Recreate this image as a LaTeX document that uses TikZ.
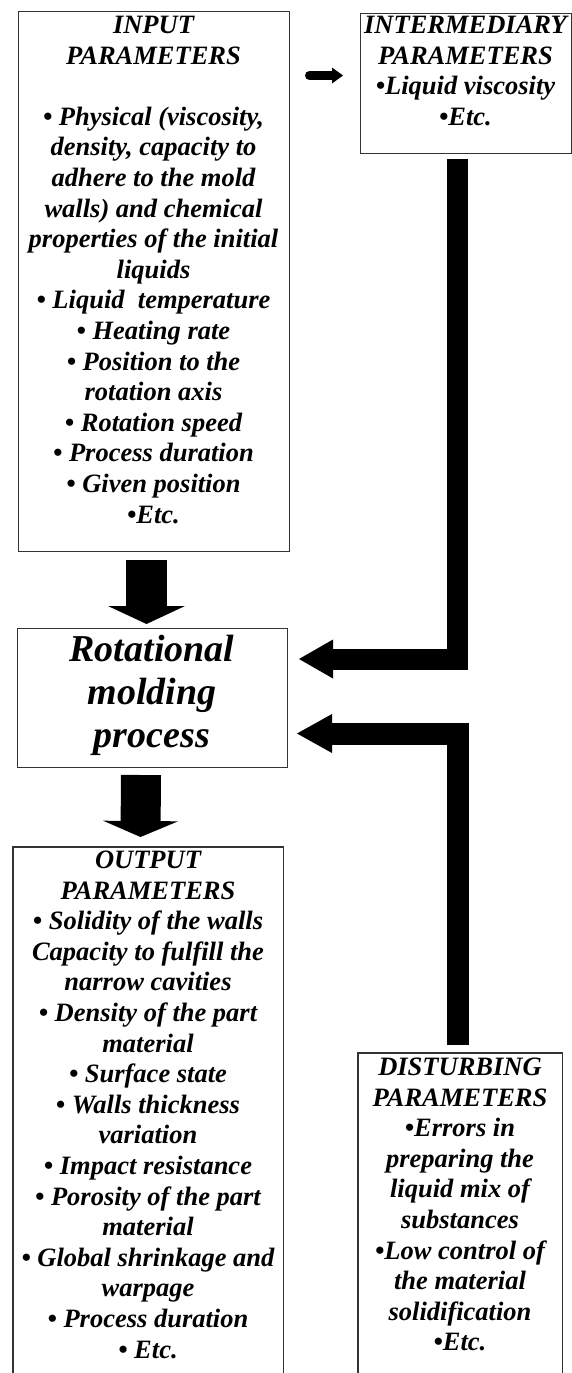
\documentclass[tikz,border=0pt]{standalone}
\usepackage{fontspec}
\setmainfont{Liberation Serif}
\usetikzlibrary{arrows.meta}
\begin{document}
\begin{tikzpicture}[x=1pt,y=-1pt,
  boxline/.style={line width=1.2pt, draw=black!80},
  frame/.style={boxline, inner sep=0pt, anchor=north west},
  hole/.style={inner sep=0pt, anchor=north west},
  txt/.style={align=center, inner sep=0pt, anchor=north, text=black,
    font=\fontsize{26.5}{30.6}\selectfont\bfseries\itshape},
  bigtxt/.style={align=center, inner sep=0pt, anchor=north, text=black,
    font=\fontsize{38}{43}\selectfont\bfseries\itshape},
  fat/.style={draw=black, line cap=butt, line join=miter}
]
\useasboundingbox[fill=white] (0,0) rectangle (572,1373);

% boxes
\node[frame, minimum width=271pt, minimum height=540pt] (inbox) at (18,11) {};
\node[frame, minimum width=211pt, minimum height=140pt] (midbox) at (360,13) {};
\node[frame, minimum width=270pt, minimum height=139pt] (procbox) at (17,628) {};
\node[hole, minimum width=270pt, minimum height=526pt] (outbox) at (13,847) {};
\node[hole, minimum width=204pt, minimum height=320pt] (disbox) at (358,1053) {};
\draw[boxline] (outbox.south west) -- (outbox.north west) -- (outbox.north east) -- (outbox.south east);
\draw[boxline] (disbox.south west) -- (disbox.north west) -- (disbox.north east) -- (disbox.south east);

% texts
\node[txt] (inT) at (153.5,11.9) {\strut INPUT\\PARAMETERS\\\strut\\
• Physical (viscosity,\\density, capacity to\\adhere to the mold\\walls) and chemical\\properties of the initial\\liquids\\
• Liquid~ temperature\\• Heating rate\\• Position to the\\rotation axis\\• Rotation speed\\• Process duration\\• Given position\\•Etc.};

\node[txt] (midT) at (465.5,11.9) {\strut INTERMEDIARY\\PARAMETERS\\•Liquid viscosity\\•Etc.};

\node[bigtxt] (procT) at (152,631) {\strut Rotational\\molding\\process};

\node[txt] (outT) at (148,846.9) {\strut OUTPUT\\PARAMETERS\\• Solidity of the walls\\Capacity to fulfill the\\narrow cavities\\
• Density of the part\\material\\• Surface state\\• Walls thickness\\variation\\• Impact resistance\\
• Porosity of the part\\material\\• Global shrinkage and\\warpage\\• Process duration\\• Etc.};

\node[txt] (disT) at (460,1053.9) {\strut DISTURBING\\PARAMETERS\\•Errors in\\preparing the\\liquid mix of\\substances\\
•Low control of\\the material\\solidification\\•Etc.};

% connector end points
\coordinate (s0) at (309.5,75.5);
\coordinate (e0) at (343,75.5);
\coordinate (s1) at (146.5,560);
\coordinate (e1) at (146.5,624);
\coordinate (s2) at (141,775);
\coordinate (e2) at (140.5,837);
\coordinate (s3) at (457.5,159);
\coordinate (e3) at (299,659);
\coordinate (s4) at (458,1045);
\coordinate (e4) at (297,733.5);

% arrows
\draw[fat, line width=9pt, line cap=round, -{Triangle[width=16pt,length=11pt,line width=0pt]}] (s0) -- (e0);
\draw[fat, line width=41pt, -{Triangle[width=77pt,length=18pt,line width=0pt]}] (s1) -- (e1);
\draw[fat, line width=40pt, -{Triangle[width=75pt,length=16pt,line width=0pt]}] (s2) -- (e2);
\draw[fat, line width=21pt, -{Triangle[width=39pt,length=34pt,line width=0pt]}] (s3) |- (e3);
\draw[fat, line width=22pt, -{Triangle[width=39pt,length=35pt,line width=0pt]}] (s4) |- (e4);
\end{tikzpicture}
\end{document}
